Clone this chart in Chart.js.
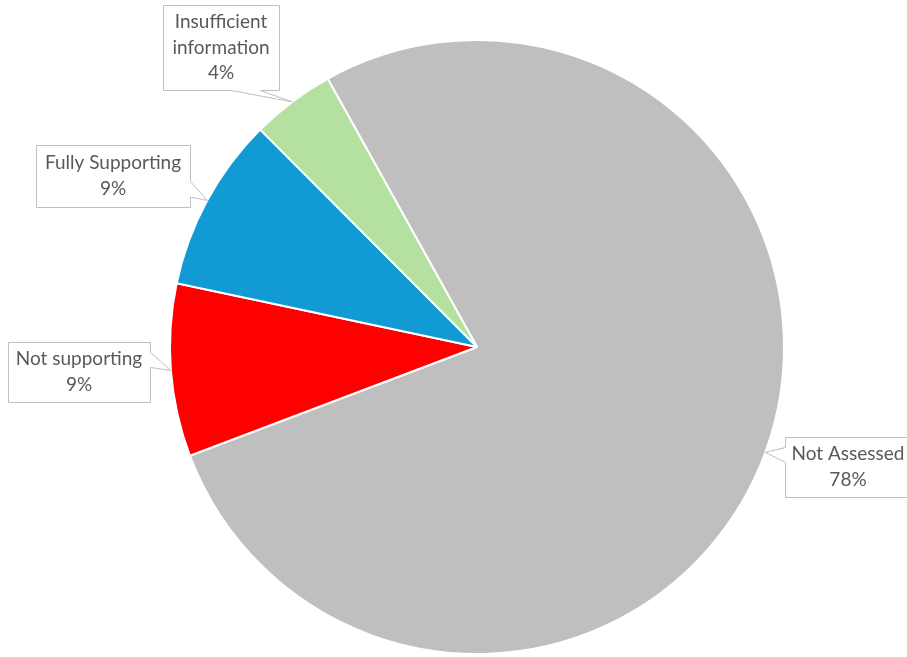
<!DOCTYPE html>
<html>
<head>
<meta charset="utf-8">
<script src="https://cdn.jsdelivr.net/npm/chart.js@4"></script>
<style>
html,body{margin:0;padding:0;background:#fff;}
#wrap{width:907px;height:657px;position:relative;}
</style>
</head>
<body>
<div id="wrap"><canvas id="c" width="907" height="657"></canvas></div>
<script>
// ---- data ----
const categories = ['Not Assessed', 'Not supporting', 'Fully Supporting', 'Insufficient information'];
const labelLines = [['Not Assessed'], ['Not supporting'], ['Fully Supporting'], ['Insufficient', 'information']];
const values = [77.4, 9.1, 9.2, 4.4];
const percentLabels = ['78%', '9%', '9%', '4%'];
const colors = ['#BFBFBF', '#FF0000', '#119AD3', '#B4E0A0'];

// callout box layout (x, y, w, h) per slice
const calloutBoxes = [
  {x: 785, y: 437, w: 126, h: 60},
  {x: 8, y: 342, w: 142, h: 60},
  {x: 36, y: 145, w: 154, h: 62},
  {x: 163, y: 5, w: 116, h: 85}
];

function drawCallout(ctx, b, tip) {
  const X = Math.round(b.x) + 0.5, Y = Math.round(b.y) + 0.5, W = b.w, H = b.h;
  const cx = X + W / 2, cy = Y + H / 2;
  const dxPos = tip.x - cx, dyPos = tip.y - cy;
  const horiz = Math.abs(dxPos * H) > Math.abs(dyPos * W);
  const x1 = W * (dxPos > 0 ? 7 : 2) / 12, x2 = W * (dxPos > 0 ? 10 : 5) / 12;
  const y1 = H * (dyPos > 0 ? 7 : 2) / 12, y2 = H * (dyPos > 0 ? 10 : 5) / 12;
  ctx.beginPath();
  ctx.moveTo(X, Y);
  if (!horiz && dyPos < 0) { ctx.lineTo(X + x1, Y); ctx.lineTo(tip.x, tip.y); ctx.lineTo(X + x2, Y); }
  ctx.lineTo(X + W, Y);
  if (horiz && dxPos > 0) { ctx.lineTo(X + W, Y + y1); ctx.lineTo(tip.x, tip.y); ctx.lineTo(X + W, Y + y2); }
  ctx.lineTo(X + W, Y + H);
  if (!horiz && dyPos > 0) { ctx.lineTo(X + x2, Y + H); ctx.lineTo(tip.x, tip.y); ctx.lineTo(X + x1, Y + H); }
  ctx.lineTo(X, Y + H);
  if (horiz && dxPos < 0) { ctx.lineTo(X, Y + y2); ctx.lineTo(tip.x, tip.y); ctx.lineTo(X, Y + y1); }
  ctx.closePath();
  ctx.fillStyle = '#FFFFFF';
  ctx.fill();
  ctx.strokeStyle = '#BFBFBF';
  ctx.lineWidth = 1;
  ctx.stroke();
}

const calloutPlugin = {
  id: 'callouts',
  afterDatasetsDraw(chart) {
    const ctx = chart.ctx;
    const meta = chart.getDatasetMeta(0);
    ctx.save();
    meta.data.forEach((arc, i) => {
      const p = arc.getProps(['x', 'y', 'startAngle', 'endAngle', 'outerRadius'], true);
      const mid = (p.startAngle + p.endAngle) / 2;
      const tip = {x: p.x + Math.cos(mid) * p.outerRadius, y: p.y + Math.sin(mid) * p.outerRadius};
      const b = calloutBoxes[i];
      drawCallout(ctx, b, tip);
      const lines = labelLines[i].concat([percentLabels[i]]);
      const lh = 25.5;
      ctx.fillStyle = '#595959';
      ctx.font = '19px Lato, "Open Sans", sans-serif';
      ctx.textAlign = 'center';
      ctx.textBaseline = 'middle';
      const startY = b.y + b.h / 2 - (lines.length - 1) * lh / 2;
      lines.forEach((t, k) => ctx.fillText(t, b.x + b.w / 2, startY + k * lh));
    });
    ctx.restore();
  }
};

new Chart(document.getElementById('c'), {
  type: 'pie',
  data: {
    labels: categories,
    datasets: [{
      data: values,
      backgroundColor: colors,
      borderColor: '#FFFFFF',
      borderWidth: 2
    }]
  },
  options: {
    responsive: false,
    animation: false,
    rotation: 330.9,
    layout: {padding: {left: 169, right: 122, top: 39, bottom: 2}},
    plugins: {legend: {display: false}, tooltip: {enabled: false}}
  },
  plugins: [calloutPlugin]
});
</script>
</body>
</html>
